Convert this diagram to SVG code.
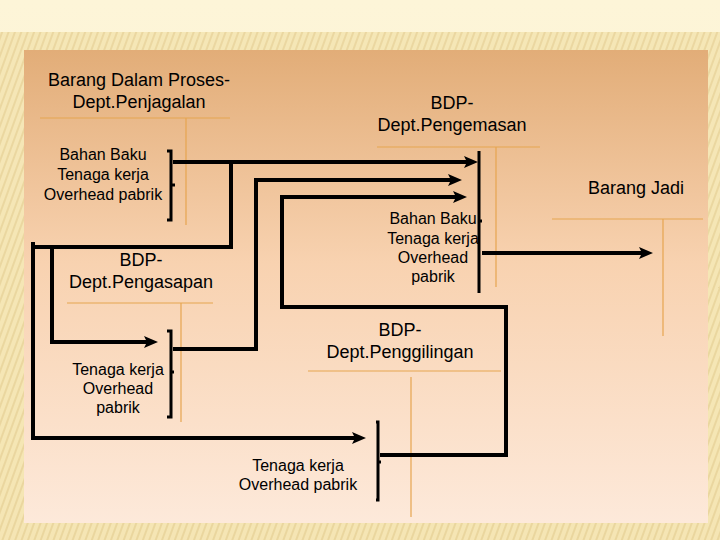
<svg xmlns="http://www.w3.org/2000/svg" width="720" height="540" viewBox="0 0 720 540">
<defs>
<linearGradient id="pg" x1="0" y1="0" x2="0" y2="1">
<stop offset="0" stop-color="#e2ad78"/>
<stop offset="0.45" stop-color="#f8d2b0"/>
<stop offset="1" stop-color="#fde9da"/>
</linearGradient>
<linearGradient id="bg" x1="0" y1="0" x2="0" y2="1">
<stop offset="0" stop-color="#fdf5d8"/>
<stop offset="1" stop-color="#fbefcc"/>
</linearGradient>
<pattern id="stripes" width="6" height="6" patternUnits="userSpaceOnUse" patternTransform="rotate(20)">
<rect width="6" height="6" fill="#f3e3ae"/>
<rect width="2" height="6" fill="#e6d093"/>
</pattern>
<marker id="arr" viewBox="0 0 14 12" refX="4" refY="6" markerWidth="14" markerHeight="12" markerUnits="userSpaceOnUse" orient="auto">
<path d="M0,0 L14,6 L0,12 L3,6 z" fill="#000"/>
</marker>
</defs>
<style>
.t{font-family:"Liberation Sans",Arial,sans-serif;fill:#000;text-anchor:middle}
.h{font-size:18px}
.s{font-size:16px}
.g{stroke:#e6a550;stroke-width:1.2;fill:none}
.c{stroke:#000;stroke-width:4;fill:none;stroke-linejoin:miter}
.a{marker-end:url(#arr)}
.b{stroke:#000;stroke-width:3;fill:none}
</style>
<rect width="720" height="540" fill="url(#bg)"/>
<rect y="32" width="720" height="508" fill="url(#stripes)" opacity="0.8"/>
<rect x="24" y="50" width="684" height="473" fill="url(#pg)"/>

<g id="penjagalan">
<text class="t h" x="139" y="86">Barang Dalam Proses-</text>
<text class="t h" x="139" y="108">Dept.Penjagalan</text>
<path class="g" d="M40,118 H230 M186,118 V225"/>
<text class="t s" x="103" y="160">Bahan Baku</text>
<text class="t s" x="103" y="180">Tenaga kerja</text>
<text class="t s" x="103" y="200">Overhead pabrik</text>
<path class="b" d="M167,151 H171 V220 H167 M171,185 H175"/>
</g>

<g id="pengemasan">
<text class="t h" x="452" y="109">BDP-</text>
<text class="t h" x="452" y="131">Dept.Pengemasan</text>
<path class="g" d="M377,147 H540 M496,147 V287"/>
<text class="t s" x="433" y="224">Bahan Baku</text>
<text class="t s" x="433" y="244">Tenaga kerja</text>
<text class="t s" x="433" y="263">Overhead</text>
<text class="t s" x="433" y="282">pabrik</text>
<path class="b" d="M479,151 V293 M479,221 H482"/>
</g>

<g id="barang-jadi">
<text class="t h" x="636" y="194">Barang Jadi</text>
<path class="g" d="M552,219 H703 M663,219 V336"/>
</g>

<g id="pengasapan">
<text class="t h" x="141" y="266">BDP-</text>
<text class="t h" x="141" y="288">Dept.Pengasapan</text>
<path class="g" d="M67,303 H213 M181,303 V422"/>
<text class="t s" x="118" y="375">Tenaga kerja</text>
<text class="t s" x="118" y="394">Overhead</text>
<text class="t s" x="118" y="413">pabrik</text>
<path class="b" d="M167,331 H171 V417 H167 M171,372 H174"/>
</g>

<g id="penggilingan">
<text class="t h" x="400" y="336">BDP-</text>
<text class="t h" x="400" y="358">Dept.Penggilingan</text>
<path class="g" d="M308,371 H501 M411,377 V517"/>
<text class="t s" x="298" y="471">Tenaga kerja</text>
<text class="t s" x="298" y="490">Overhead pabrik</text>
<path class="b" d="M376,422 H378 V500 H376 M378,462 H381"/>
</g>

<g id="connectors">
<path class="c a" d="M173,162 H468"/>
<path class="c a" d="M173,349 H256 V180 H452"/>
<path class="c a" d="M380,455 H506 V307 H282 V197 H457"/>
<path class="c a" d="M231,162 V247 H33 V242 M33,244 V438 H356"/>
<path class="c a" d="M52,247 V342 H148"/>
<path class="c a" d="M482,253 H643"/>
</g>
</svg>
